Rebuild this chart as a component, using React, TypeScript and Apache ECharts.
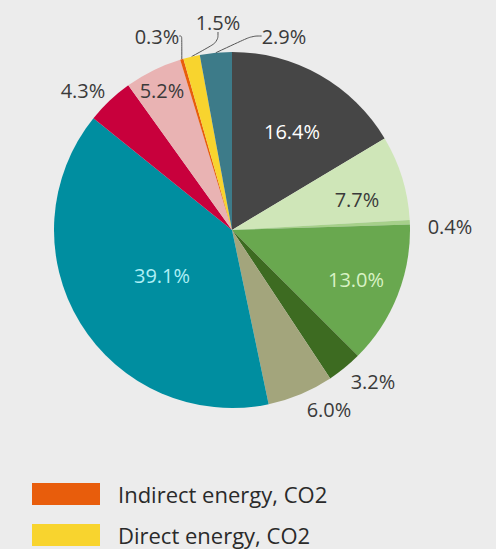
import React, { useEffect, useRef } from "react";
import * as echarts from "echarts";

const names = [
  "Enteric fermentation, CH4",
  "Manure management, CH4",
  "Other, CH4",
  "Agricultural soils, N2O",
  "Manure management, N2O",
  "Indirect N2O",
  "Land use, CO2",
  "Liming, CO2",
  "Fertiliser production, CO2",
  "Indirect energy, CO2",
  "Direct energy, CO2",
  "Other, CO2",
];
const values = [16.4, 7.7, 0.4, 13.0, 3.2, 6.0, 39.1, 4.3, 5.2, 0.3, 1.5, 2.9];
const colors = [
  "#464646",
  "#cfe6b8",
  "#a6d08a",
  "#69a84f",
  "#3d6b21",
  "#a3a57c",
  "#008ea0",
  "#c8003c",
  "#e9b3b3",
  "#e85d0c",
  "#f8d42e",
  "#3d7b89",
];
const legendItems = ["Indirect energy, CO2", "Direct energy, CO2"];

// label placement (centre of text) and text colours
const labelPos: [number, number][] = [
  [292, 131],
  [357, 199],
  [450, 226],
  [356, 279],
  [373, 381],
  [329, 409],
  [162, 275],
  [83, 90],
  [162, 90],
  [157, 36],
  [218, 22],
  [284, 36],
];
const labelColors = [
  "#ffffff",
  "#3a3a3a",
  "#3a3a3a",
  "#d8f2c4",
  "#3a3a3a",
  "#3a3a3a",
  "#aeeef5",
  "#3a3a3a",
  "#3a3a3a",
  "#3a3a3a",
  "#3a3a3a",
  "#3a3a3a",
];
const withLeader = [9, 10, 11];

export default function App() {
  const ref = useRef<HTMLDivElement>(null);
  useEffect(() => {
    if (!ref.current) return;
    const chart = echarts.init(ref.current, undefined, { renderer: "svg" });
    chart.setOption({
      animation: false,
      backgroundColor: "#ececec",
      legend: {
        data: legendItems,
        orient: "vertical",
        left: 32,
        top: 483,
        itemWidth: 68,
        itemHeight: 22,
        itemGap: 19,
        padding: 0,
        icon: "rect",
        textStyle: {
          fontFamily: "Open Sans",
          fontSize: 22,
          lineHeight: 22,
          color: "#2a2a2a",
          padding: [0, 0, 0, 13],
        },
      },
      series: [
        {
          type: "pie",
          center: [232, 230],
          radius: 178,
          startAngle: 90,
          clockwise: true,
          label: {
            show: true,
            fontFamily: "Open Sans",
            fontSize: 20,
            overflow: "none",
            formatter: (p: any) => p.value.toFixed(1) + "%",
          },
          labelLine: { show: false },
          labelLayout: (p: any) => {
            const pos = labelPos[p.dataIndex];
            return {
              x: pos[0],
              y: pos[1],
              align: "center",
              verticalAlign: "middle",
            };
          },
          data: values.map((v, i) => ({
            name: names[i],
            value: v,
            itemStyle: { color: colors[i] },
            label: { color: labelColors[i] },
            labelLine: withLeader.includes(i)
              ? {
                  show: true,
                  length: 6,
                  length2: 10,
                  smooth: 0.4,
                  lineStyle: { color: "#555", width: 1 },
                }
              : { show: false },
          })),
        },
      ],
    });
    return () => chart.dispose();
  }, []);
  return (
    <div
      ref={ref}
      style={{ position: "absolute", left: 0, top: 0, width: 496, height: 549 }}
    />
  );
}
